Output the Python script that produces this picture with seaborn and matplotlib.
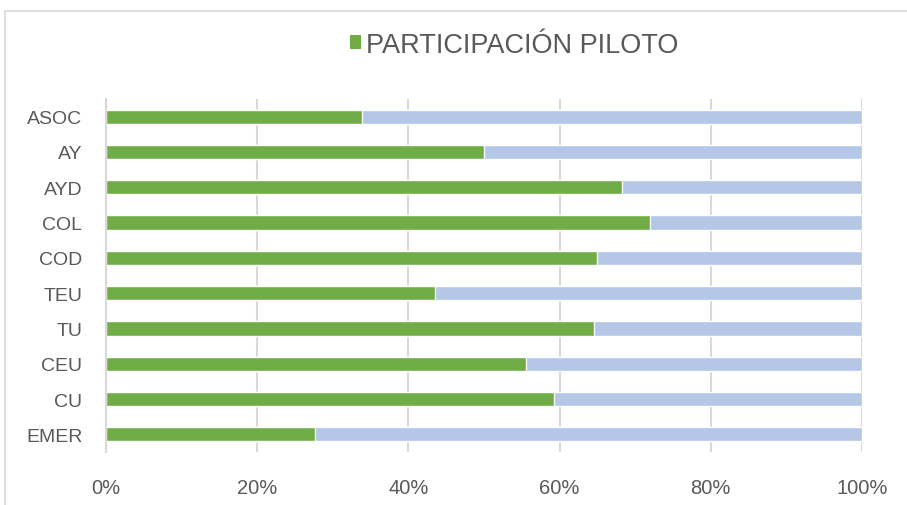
import matplotlib
matplotlib.use("Agg")
import matplotlib.pyplot as plt
import seaborn as sns
import pandas as pd
from matplotlib.patches import Rectangle, Patch

categories = ["ASOC", "AY", "AYD", "COL", "COD", "TEU", "TU", "CEU", "CU", "EMER"]
participacion = [33.9, 50.0, 68.2, 71.9, 64.9, 43.5, 64.5, 55.6, 59.2, 27.6]
total = [100] * len(categories)
xticks = [0, 20, 40, 60, 80, 100]
xticklabels = ["0%", "20%", "40%", "60%", "80%", "100%"]
legend_label = "PARTICIPACIÓN PILOTO"

GREEN = "#70AD47"
BLUE = "#B4C7E7"
TEXT = "#595959"
GRID = "#D9D9D9"

sns.set_theme(style="white")
plt.rcParams["font.family"] = ["Liberation Sans", "DejaVu Sans"]

df = pd.DataFrame({"cat": categories, "val": participacion, "tot": total})

fig = plt.figure(figsize=(9.07, 5.06), dpi=100)
ax = fig.add_axes([106/907, 53/506, 756/907, 353/506])

sns.barplot(data=df, x="tot", y="cat", color=BLUE, saturation=1, width=0.4,
            orient="h", ax=ax, zorder=3)
sns.barplot(data=df, x="val", y="cat", color=GREEN, saturation=1, width=0.4,
            orient="h", ax=ax, zorder=4)

ax.set_xlim(0, 100)
ax.set_ylim(9.5, -0.5)
ax.set_xticks(xticks)
ax.set_xticklabels(xticklabels, fontsize=14.5, color=TEXT)
ax.tick_params(axis="y", labelsize=14, labelcolor=TEXT, length=0, pad=17)
ax.tick_params(axis="x", length=0, pad=19)
ax.set_xlabel("")
ax.set_ylabel("")
ax.grid(axis="x", color=GRID, linewidth=1.5, zorder=0)
ax.set_axisbelow(True)
for s in ["top", "right", "bottom"]:
    ax.spines[s].set_visible(False)
ax.spines["left"].set_color(GRID)
ax.spines["left"].set_linewidth(1.5)
ax.spines["left"].set_zorder(5)

handle = Patch(facecolor=GREEN, edgecolor="none")
fig.legend([handle], [legend_label], loc="center", bbox_to_anchor=(514/907, 1 - 46/506),
           frameon=False, fontsize=19.5, labelcolor=TEXT, handlelength=0.42,
           handleheight=0.42, handletextpad=0.15, borderaxespad=0)

fig.patches.append(Rectangle((5/907, -0.1), 1.2, 0.1 + (506-12)/506, transform=fig.transFigure,
                             fill=False, edgecolor=GRID, linewidth=1.2, zorder=0))

fig.savefig("out.png", dpi=100)
